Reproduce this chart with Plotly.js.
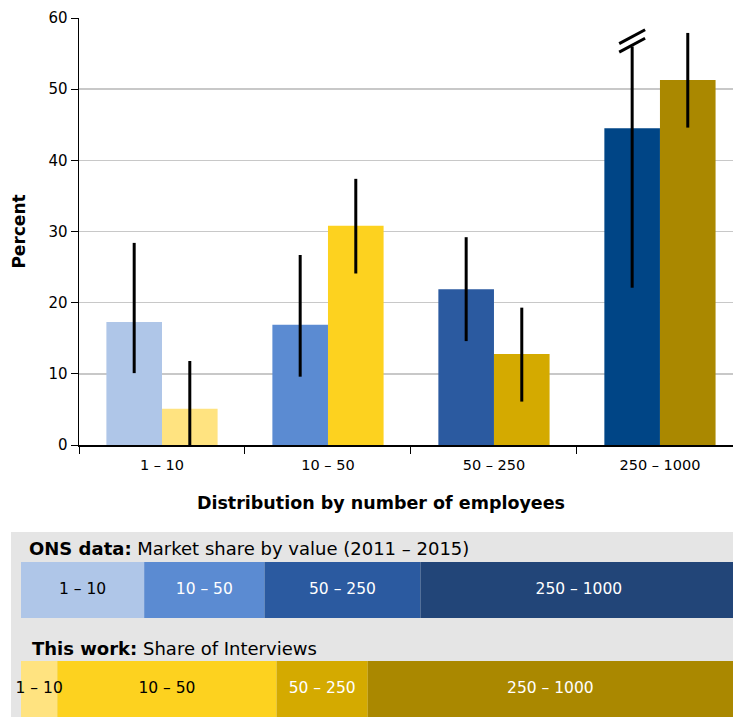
<!DOCTYPE html>
<html>
<head>
<meta charset="utf-8">
<script src="https://cdn.plot.ly/plotly-3.0.1.min.js"></script>
<style>html,body{margin:0;padding:0;background:#fff;}#chart{width:733px;height:717px;}</style>
</head>
<body>
<div id="chart"></div>
<script>
// ---- data ----
var categories = ['1 – 10', '10 – 50', '50 – 250', '250 – 1000'];
var onsValues = [17.3, 16.9, 21.9, 44.5];
var onsErrHigh = [28.4, 26.7, 29.2, 56.0];
var onsErrLow = [10.1, 9.6, 14.6, 22.1];
var workValues = [5.1, 30.8, 12.8, 51.3];
var workErrHigh = [11.8, 37.4, 19.3, 57.9];
var workErrLow = [0, 24.1, 6.1, 44.6];
var rowLabels = ['ONS data', 'This work'];

// ---- styles ----
var onsColors = ['#AFC6E8', '#5B8BD2', '#2B5AA0', '#004586'];
var workColors = ['#FFE380', '#FDD21F', '#D4AA00', '#AA8800'];
var onsStripColors = ['#AFC6E8', '#5B8BD2', '#2B5AA0', '#224578'];
var onsStripText = ['#000000', '#ffffff', '#ffffff', '#ffffff'];
var workStripText = ['#000000', '#000000', '#ffffff', '#ffffff'];
var FONT = 'DejaVu Sans, Liberation Sans, Arial, sans-serif';
var W = 733, H = 717;

function diff(a, b) { return a.map(function (v, i) { return Math.abs(v - b[i]); }); }
function cumBase(vals) { var s = 0; return vals.map(function (v) { var b = s; s += v; return b; }); }
function centers(vals) { var base = cumBase(vals); return vals.map(function (v, i) { return base[i] + v / 2; }); }

var errStyle = { type: 'data', symmetric: false, color: '#000000', thickness: 3, width: 0 };

var traceOns = {
  type: 'bar', name: 'ONS', x: categories, y: onsValues,
  marker: { color: onsColors },
  error_y: Object.assign({}, errStyle, { array: diff(onsErrHigh, onsValues), arrayminus: diff(onsValues, onsErrLow) }),
  xaxis: 'x', yaxis: 'y', hoverinfo: 'skip'
};
var traceWork = {
  type: 'bar', name: 'This work', x: categories, y: workValues,
  marker: { color: workColors },
  error_y: Object.assign({}, errStyle, { array: diff(workErrHigh, workValues), arrayminus: diff(workValues, workErrLow) }),
  xaxis: 'x', yaxis: 'y', hoverinfo: 'skip'
};

// stacked strips (one trace, two rows)
var stripY = onsValues.map(function () { return 0; }).concat(workValues.map(function () { return 1; }));
var traceStrip = {
  type: 'bar', orientation: 'h', x: onsValues.concat(workValues), y: stripY,
  base: cumBase(onsValues).concat(cumBase(workValues)),
  width: 0.566,
  marker: { color: onsStripColors.concat(workColors) },
  xaxis: 'x2', yaxis: 'y2', hoverinfo: 'skip', showlegend: false
};
var traceStripLabels = {
  type: 'scatter', mode: 'text', x: centers(onsValues).concat(centers(workValues)), y: stripY,
  text: categories.concat(categories), textposition: 'middle center', cliponaxis: false,
  textfont: { family: FONT, size: 15.5, color: onsStripText.concat(workStripText) },
  xaxis: 'x2', yaxis: 'y2', hoverinfo: 'skip', showlegend: false
};

// break mark on the ONS 250-1000 error bar
var bx = 3 - 0.1675, by = onsErrHigh[3];
var breakShapes = [0, 1].map(function (k) {
  return { type: 'line', xref: 'x', yref: 'y', x0: bx - 0.078, x1: bx + 0.078,
    y0: by + 0.4 - k * 1.2, y1: by + 2.35 - k * 1.2, line: { color: '#000', width: 3 } };
});

var pad = '';
for (var i = 0; i < 9; i++) pad += '&nbsp;';

var layout = {
  width: W, height: H,
  margin: { l: 0, r: 0, t: 0, b: 0 },
  paper_bgcolor: '#ffffff', plot_bgcolor: 'rgba(0,0,0,0)',
  font: { family: FONT, size: 15, color: '#000' },
  showlegend: false,
  barmode: 'group', bargap: 0.33, bargroupgap: 0,
  xaxis: {
    domain: [79 / W, 1], type: 'category', categoryorder: 'array', categoryarray: categories,
    range: [-0.5, 3.44], tickson: 'boundaries', ticks: 'outside', ticklen: 7, tickcolor: '#000',
    showline: true, linecolor: '#000', linewidth: 1.5, showgrid: false, automargin: false,
    tickfont: { size: 14.5 }, ticklabelstandoff: 6,
    title: { text: '<b>Distribution by number of employees</b>' + pad, font: { size: 17.5 }, standoff: 25 },
    anchor: 'y'
  },
  yaxis: {
    domain: [(H - 445) / H, (H - 18) / H], range: [0, 60], dtick: 10,
    ticks: 'outside', ticklen: 7, tickcolor: '#000', showline: true, linecolor: '#000', linewidth: 1.5,
    showgrid: true, gridcolor: '#C8C8C8', gridwidth: 1.5, zeroline: false, automargin: false,
    tickfont: { size: 15 }, ticklabelstandoff: 0,
    title: { text: '<b>Percent</b>', font: { size: 17 }, standoff: 18 },
    anchor: 'x'
  },
  xaxis2: { domain: [21 / W, 1], range: [0, 100], visible: false, anchor: 'y2', fixedrange: true },
  yaxis2: { domain: [0, 177 / H], range: [1.283, -0.505], visible: false, anchor: 'x2', fixedrange: true },
  shapes: [
    { type: 'rect', xref: 'paper', yref: 'paper', x0: 11 / W, x1: 1, y0: 0, y1: (H - 532) / H,
      fillcolor: '#E5E5E5', line: { width: 0 }, layer: 'below' }
  ].concat(breakShapes),
  annotations: [
    { xref: 'paper', yref: 'paper', x: 27 / W, y: (H - 548) / H, xanchor: 'left', yanchor: 'middle',
      text: '<b>' + rowLabels[0] + ':</b> Market share by value (2011 – 2015)', showarrow: false, font: { size: 18 } },
    { xref: 'paper', yref: 'paper', x: 30 / W, y: (H - 648) / H, xanchor: 'left', yanchor: 'middle',
      text: '<b>' + rowLabels[1] + ':</b> Share of Interviews', showarrow: false, font: { size: 18 } }
  ]
};

Plotly.newPlot('chart', [traceOns, traceWork, traceStrip, traceStripLabels], layout, { staticPlot: true, displayModeBar: false });
</script>
</body>
</html>
